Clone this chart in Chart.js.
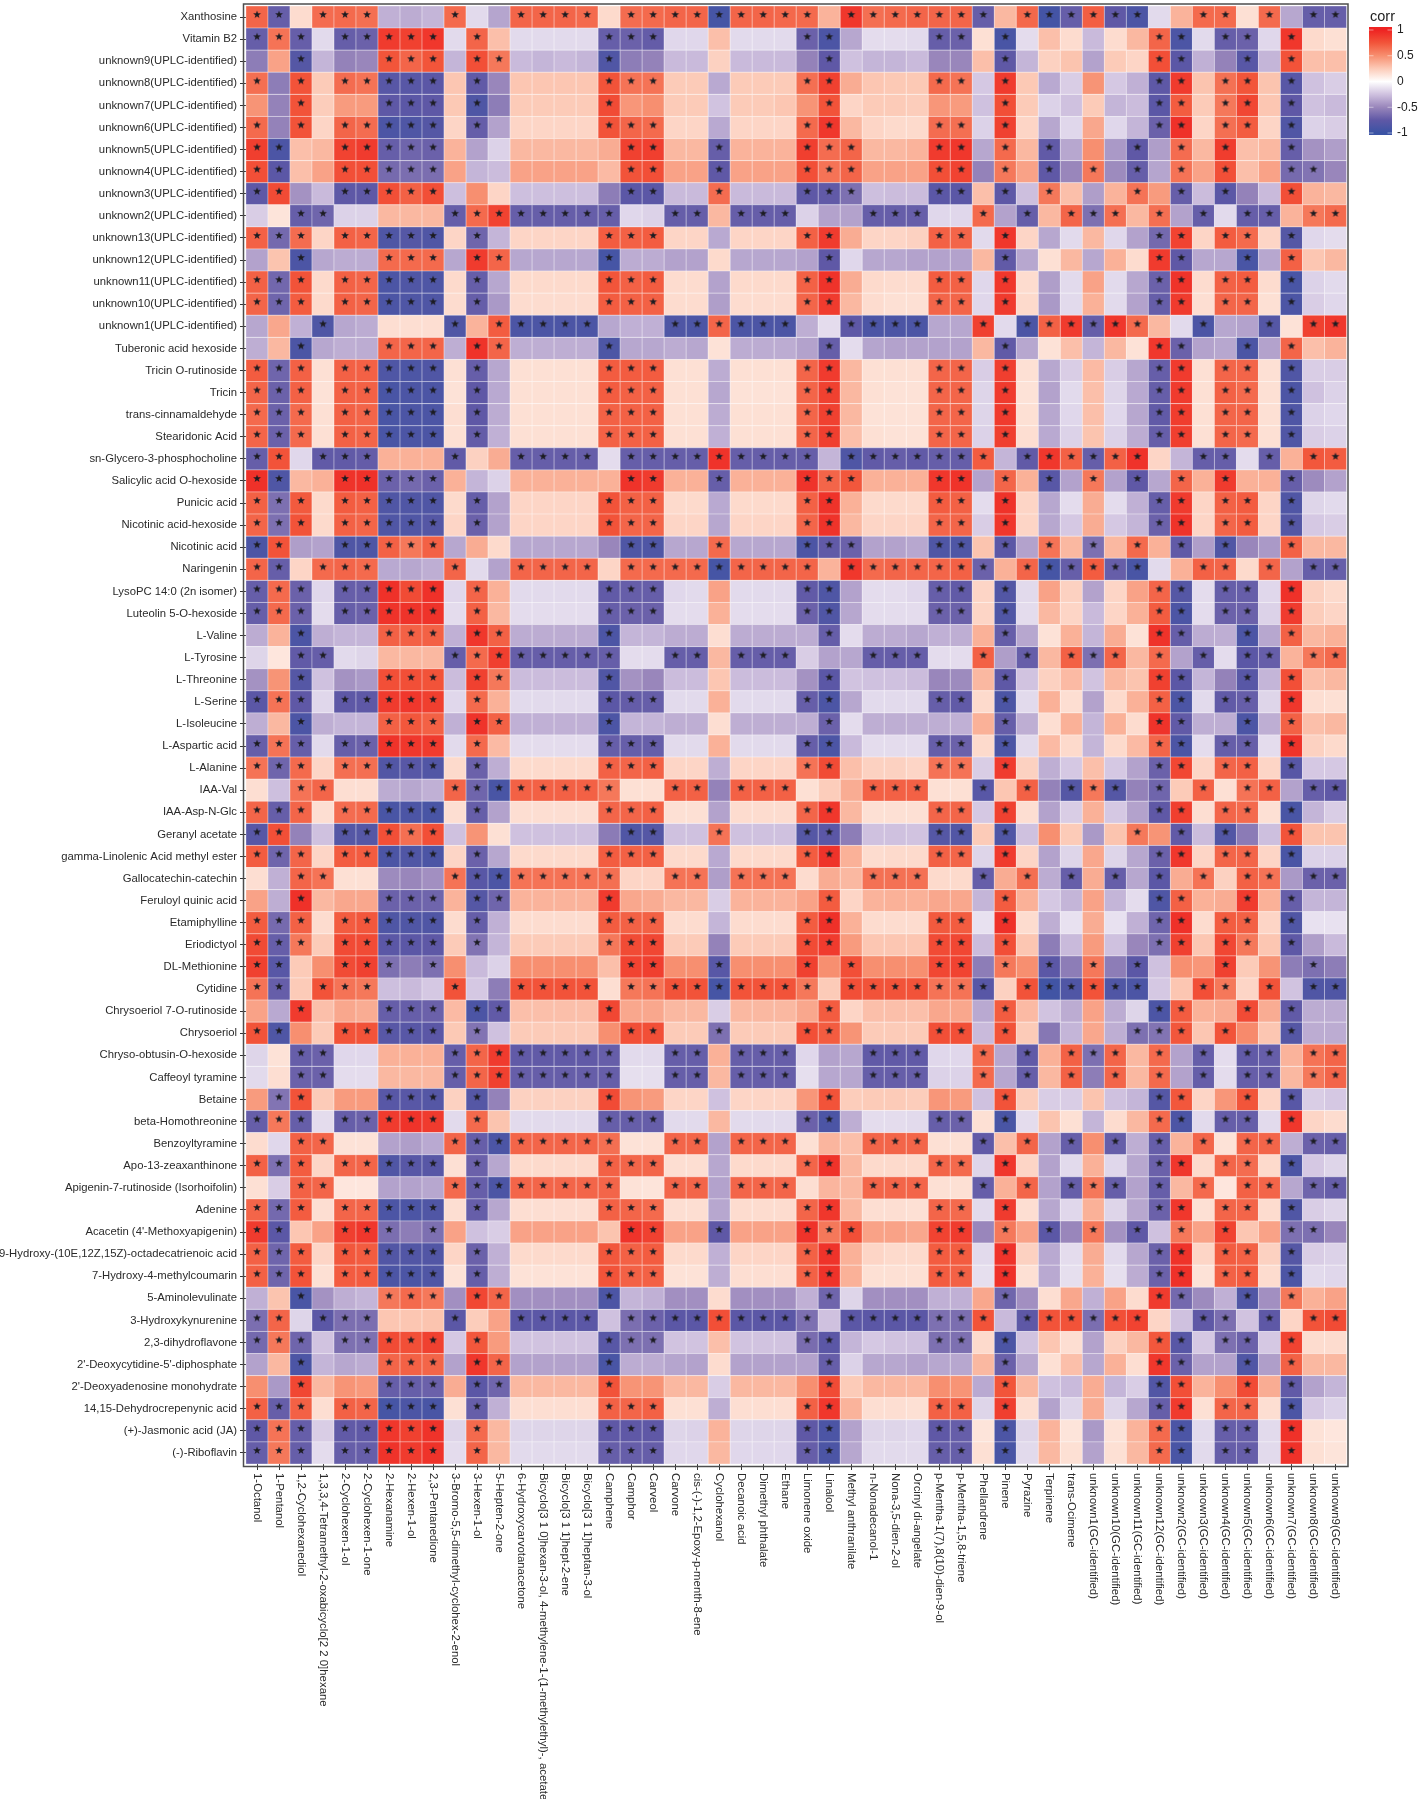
<!DOCTYPE html>
<html>
<head>
<meta charset="utf-8">
<title>corr heatmap</title>
<script src="https://cdn.jsdelivr.net/npm/chart.js@4"></script>
<style>
  html, body { margin: 0; padding: 0; background: #fff; }
  canvas { display: block; }
</style>
</head>
<body>
<canvas id="heatmap" width="1418" height="1799"></canvas>
<script>
const volatiles = ['1-Octanol','1-Pentanol','1,2-Cyclohexanediol','1,3,3,4-Tetramethyl-2-oxabicyclo[2 2 0]hexane','2-Cyclohexen-1-ol','2-Cyclohexen-1-one','2-Hexanamine','2-Hexen-1-ol','2,3-Pentanedione','3-Bromo-5,5-dimethyl-cyclohex-2-enol','3-Hexen-1-ol','5-Hepten-2-one','6-Hydroxycarvotanacetone','Bicyclo[3 1 0]hexan-3-ol, 4-methylene-1-(1-methylethyl)-, acetate','Bicyclo[3 1 1]hept-2-ene','Bicyclo[3 1 1]heptan-3-ol','Camphene','Camphor','Carveol','Carvone','cis-(-)-1,2-Epoxy-p-menth-8-ene','Cyclohexanol','Decanoic acid','Dimethyl phthalate','Ethane','Limonene oxide','Linalool','Methyl anthranilate','n-Nonadecanol-1','Nona-3,5-dien-2-ol','Orcinyl di-angelate','p-Mentha-1(7),8(10)-dien-9-ol','p-Mentha-1,5,8-triene','Phellandrene','Pinene','Pyrazine','Terpinene','trans-Ocimene','unknown1(GC-identified)','unknown10(GC-identified)','unknown11(GC-identified)','unknown12(GC-identified)','unknown2(GC-identified)','unknown3(GC-identified)','unknown4(GC-identified)','unknown5(GC-identified)','unknown6(GC-identified)','unknown7(GC-identified)','unknown8(GC-identified)','unknown9(GC-identified)']

const metabolites = ['Xanthosine','Vitamin B2','unknown9(UPLC-identified)','unknown8(UPLC-identified)','unknown7(UPLC-identified)','unknown6(UPLC-identified)','unknown5(UPLC-identified)','unknown4(UPLC-identified)','unknown3(UPLC-identified)','unknown2(UPLC-identified)','unknown13(UPLC-identified)','unknown12(UPLC-identified)','unknown11(UPLC-identified)','unknown10(UPLC-identified)','unknown1(UPLC-identified)','Tuberonic acid hexoside','Tricin O-rutinoside','Tricin','trans-cinnamaldehyde','Stearidonic Acid','sn-Glycero-3-phosphocholine','Salicylic acid O-hexoside','Punicic acid','Nicotinic acid-hexoside','Nicotinic acid','Naringenin','LysoPC 14:0 (2n isomer)','Luteolin 5-O-hexoside','L-Valine','L-Tyrosine','L-Threonine','L-Serine','L-Isoleucine','L-Aspartic acid','L-Alanine','IAA-Val','IAA-Asp-N-Glc','Geranyl acetate','gamma-Linolenic Acid methyl ester','Gallocatechin-catechin','Feruloyl quinic acid','Etamiphylline','Eriodictyol','DL-Methionine','Cytidine','Chrysoeriol 7-O-rutinoside','Chrysoeriol','Chryso-obtusin-O-hexoside','Caffeoyl tyramine','Betaine','beta-Homothreonine','Benzoyltyramine','Apo-13-zeaxanthinone','Apigenin-7-rutinoside (Isorhoifolin)','Adenine','Acacetin (4\'-Methoxyapigenin)','9-Hydroxy-(10E,12Z,15Z)-octadecatrienoic acid','7-Hydroxy-4-methylcoumarin','5-Aminolevulinate','3-Hydroxykynurenine','2,3-dihydroflavone','2\'-Deoxycytidine-5\'-diphosphate','2\'-Deoxyadenosine monohydrate','14,15-Dehydrocrepenynic acid','(+)-Jasmonic acid (JA)','(-)-Riboflavin']

// corr values per metabolite, same order as volatiles
const xanthosine = [.68,-.72,.17,.65,.66,.64,-.32,-.34,-.3,.66,-.15,-.37,.68,.68,.68,.66,.18,.65,.66,.68,.68,-.92,.68,.68,.67,
  .66,.35,.9,.64,.66,.68,.68,.68,-.72,.33,.67,-.93,-.72,.71,-.75,-.88,-.15,.35,.66,.66,.15,.66,-.36,-.72,-.72]
const vitaminB2 = [-.72,.62,-.72,-.15,-.72,-.7,.88,.85,.9,-.15,.68,.3,-.15,-.15,-.15,-.15,-.72,-.7,-.73,-.16,-.16,.3,-.15,-.15,-.15,
  -.7,-.88,-.36,-.14,-.14,-.15,-.72,-.7,.15,-.9,-.14,.3,.17,-.28,.17,.33,.68,-.88,-.15,-.72,-.7,-.16,.9,.18,.15]
const unknown9 = [-.55,.42,-.82,-.3,-.52,-.5,.75,.68,.75,-.3,.78,.6,-.28,-.3,-.28,-.3,-.85,-.55,-.52,-.28,-.28,.22,-.28,-.28,-.28,
  -.52,-.75,-.25,-.3,-.3,-.28,-.5,-.5,.3,-.75,-.3,.22,.28,-.38,.25,.2,.78,-.78,-.32,-.52,-.8,-.3,.76,.3,.3]
const unknown8 = [.64,-.55,.76,.25,.65,.62,-.8,-.8,-.78,.27,-.74,-.5,.27,.27,.27,.27,.76,.62,.62,.25,.25,-.35,.25,.25,.25,
  .64,.85,.38,.27,.26,.26,.66,.62,-.22,.88,.26,-.35,-.2,.48,-.22,-.32,-.76,.88,.28,.63,.75,.28,-.8,-.25,-.2]
const unknown7 = [.48,-.52,.76,.24,.45,.45,-.76,-.78,-.76,.26,-.86,-.55,.25,.25,.25,.25,.8,.47,.5,.25,.25,-.24,.25,.25,.27,
  .48,.76,.2,.25,.25,.24,.47,.45,-.25,.78,.25,-.18,-.25,.25,-.3,-.27,-.78,.72,.25,.6,.82,.27,-.75,-.25,-.28]
const unknown6 = [.66,-.52,.76,.2,.68,.65,-.88,-.86,-.82,.2,-.72,-.38,.2,.2,.2,.2,.76,.68,.66,.2,.2,-.35,.2,.2,.2,
  .66,.9,.33,.2,.18,.18,.65,.64,-.18,.85,.2,-.36,-.16,.4,-.16,-.3,-.7,.93,.2,.64,.72,.2,-.85,-.18,-.2]
const unknown5 = [.86,-.88,.3,.33,.84,.88,-.72,-.68,-.7,.35,-.38,-.18,.33,.33,.33,.33,.38,.85,.86,.33,.33,-.72,.35,.35,.35,
  .86,.65,.68,.33,.33,.35,.88,.9,-.36,.66,.33,-.74,-.36,.5,-.42,-.75,-.4,.65,.33,.87,.3,.33,-.72,-.45,-.4]
const unknown4 = [.78,-.78,.3,.42,.78,.78,-.65,-.63,-.63,.42,-.3,-.27,.42,.42,.42,.42,.32,.76,.78,.42,.42,-.75,.42,.42,.42,
  .78,.62,.68,.42,.42,.42,.78,.84,-.52,.6,.42,-.75,-.5,.6,-.48,-.72,-.37,.62,.42,.78,.3,.42,-.65,-.6,-.5]
const unknown3 = [-.76,.8,-.45,-.28,-.76,-.76,.78,.7,.78,-.26,.5,.2,-.26,-.26,-.26,-.26,-.55,-.78,-.78,-.28,-.28,.65,-.28,-.28,-.28,
  -.76,-.74,-.62,-.26,-.27,-.27,-.78,-.78,.3,-.76,-.26,.6,.3,-.4,.35,.62,.45,-.72,-.27,-.78,-.52,-.28,.78,.35,.33]
const unknown2 = [-.2,.13,-.72,-.68,-.18,-.18,.33,.33,.33,-.72,.66,.84,-.72,-.72,-.72,-.72,-.72,-.16,-.18,-.72,-.72,.33,-.72,-.72,-.72,
  -.18,-.38,-.38,-.72,-.72,-.72,-.16,-.16,.66,-.38,-.72,.33,.68,-.62,.64,.33,.64,-.38,-.72,-.15,-.72,-.72,.35,.6,.66]
const unknown13 = [.7,-.66,.65,.2,.7,.68,-.86,-.82,-.85,.2,-.68,-.3,.2,.2,.2,.2,.72,.7,.72,.2,.2,-.35,.2,.2,.2,
  .7,.88,.38,.2,.2,.22,.7,.68,-.15,.9,.2,-.36,-.15,.33,-.16,-.38,-.66,.84,.2,.72,.66,.2,-.82,-.16,-.14]
const unknown12 = [-.38,.28,-.88,-.36,-.34,-.34,.66,.66,.66,-.36,.88,.68,-.36,-.36,-.36,-.36,-.92,-.34,-.34,-.38,-.38,.18,-.36,-.36,-.36,
  -.38,-.75,-.16,-.36,-.36,-.38,-.38,-.38,.33,-.74,-.36,.15,.33,-.36,.36,.17,.88,-.75,-.36,-.36,-.9,-.36,.7,.27,.33]
const unknown11 = [.7,-.67,.76,.18,.7,.68,-.88,-.85,-.86,.18,-.72,-.36,.18,.18,.18,.18,.75,.7,.72,.17,.17,-.38,.18,.18,.18,
  .7,.92,.38,.18,.17,.17,.72,.7,-.16,.9,.17,-.4,-.15,.42,-.15,-.36,-.7,.92,.17,.7,.72,.17,-.9,-.18,-.15]
const unknown10 = [.68,-.68,.72,.18,.7,.68,-.88,-.86,-.86,.17,-.72,-.42,.17,.17,.17,.17,.72,.7,.7,.17,.17,-.4,.17,.17,.17,
  .68,.88,.33,.17,.15,.15,.68,.68,-.16,.88,.18,-.42,-.15,.36,-.15,-.38,-.72,.88,.16,.68,.68,.15,-.88,-.2,-.16]
const unknown1 = [-.36,.4,-.32,-.86,-.36,-.34,.16,.16,.16,-.85,.35,.72,-.88,-.88,-.88,-.88,-.36,-.32,-.32,-.86,-.88,.68,-.88,-.88,-.88,
  -.33,-.14,-.76,-.88,-.88,-.88,-.36,-.36,.85,-.15,-.88,.7,.88,-.72,.9,.66,.33,-.15,-.88,-.36,-.38,-.82,.14,.85,.9]
const tuberonic = [-.33,.33,-.88,-.36,-.33,-.34,.68,.68,.68,-.33,.92,.68,-.33,-.33,-.33,-.33,-.87,-.36,-.36,-.34,-.36,.14,-.34,-.34,-.34,
  -.38,-.72,-.14,-.37,-.38,-.38,-.38,-.38,.33,-.74,-.36,.14,.3,-.3,.33,.14,.9,-.7,-.38,-.36,-.88,-.38,.68,.3,.35]
const tricinRut = [.72,-.68,.7,.15,.7,.7,-.86,-.87,-.85,.15,-.72,-.36,.15,.15,.15,.15,.72,.72,.72,.15,.15,-.34,.15,.15,.15,
  .68,.88,.33,.15,.15,.15,.68,.68,-.2,.86,.15,-.36,-.2,.32,-.2,-.36,-.72,.88,.15,.68,.68,.15,-.85,-.2,-.2]
const tricin = [.68,-.7,.7,.14,.7,.7,-.9,-.88,-.88,.14,-.75,-.35,.15,.15,.15,.15,.72,.7,.7,.15,.15,-.36,.14,.14,.14,
  .68,.85,.33,.15,.14,.14,.68,.68,-.17,.88,.14,-.38,-.15,.3,-.17,-.35,-.72,.88,.15,.7,.66,.15,-.88,-.25,-.18]
const cinnamaldehyde = [.66,-.7,.66,.15,.7,.68,-.9,-.88,-.88,.16,-.75,-.34,.15,.15,.15,.15,.7,.7,.7,.15,.15,-.34,.15,.15,.15,
  .68,.85,.33,.14,.14,.14,.68,.68,-.17,.88,.15,-.36,-.16,.3,-.16,-.36,-.74,.87,.15,.68,.68,.15,-.86,-.18,-.16]
const stearidonic = [.68,-.7,.66,.15,.7,.68,-.9,-.88,-.88,.15,-.73,-.32,.15,.15,.15,.15,.7,.7,.7,.15,.15,-.32,.15,.15,.15,
  .68,.86,.3,.15,.14,.14,.68,.68,-.18,.86,.16,-.35,-.18,.28,-.18,-.34,-.72,.86,.15,.68,.66,.15,-.85,-.2,-.18]
const snGlycero = [-.72,.76,-.16,-.74,-.74,-.73,.36,.36,.36,-.74,.22,.38,-.72,-.72,-.72,-.72,-.14,-.72,-.72,-.72,-.72,.92,-.72,-.72,-.72,
  -.72,-.3,-.86,-.74,-.72,-.74,-.72,-.72,.72,-.3,-.74,.9,.7,-.72,.7,.92,.2,-.3,-.72,-.72,-.14,-.72,.36,.74,.72]
const salicylic = [.93,-.86,.33,.36,.92,.93,-.7,-.66,-.7,.36,-.3,-.18,.36,.36,.36,.36,.36,.92,.88,.36,.36,-.72,.36,.36,.36,
  .92,.68,.74,.36,.36,.36,.9,.92,-.38,.68,.36,-.8,-.38,.6,-.38,-.75,-.36,.68,.36,.88,.36,.36,-.72,-.48,-.38]
const punicic = [.7,-.62,.73,.18,.72,.7,-.85,-.85,-.85,.18,-.72,-.38,.2,.2,.2,.2,.76,.7,.7,.18,.18,-.35,.18,.18,.18,
  .7,.92,.36,.18,.18,.18,.72,.7,-.14,.92,.2,-.36,-.14,.38,-.14,-.32,-.72,.88,.2,.7,.72,.2,-.85,-.17,-.15]
const nicotinicHex = [.68,-.62,.76,.18,.7,.68,-.85,-.85,-.82,.2,-.7,-.38,.2,.2,.2,.2,.76,.68,.68,.2,.2,-.36,.2,.2,.2,
  .68,.92,.33,.2,.2,.2,.68,.68,-.2,.9,.2,-.36,-.22,.38,-.22,-.3,-.7,.92,.2,.68,.72,.2,-.82,-.22,-.2]
const nicotinic = [-.88,.76,-.4,-.38,-.86,-.86,.7,.6,.7,-.36,.38,.18,-.36,-.36,-.36,-.36,-.5,-.86,-.86,-.36,-.36,.66,-.36,-.36,-.36,
  -.88,-.74,-.7,-.38,-.38,-.36,-.86,-.86,.28,-.78,-.38,.62,.33,-.62,.33,.66,.36,-.74,-.4,-.85,-.5,-.42,.7,.33,.33]
const naringenin = [.68,-.72,.2,.66,.68,.66,-.35,-.36,-.33,.68,-.15,-.38,.68,.68,.68,.68,.2,.66,.66,.66,.66,-.92,.68,.68,.68,
  .68,.35,.9,.66,.68,.68,.68,.7,-.7,.36,.68,-.92,-.72,.72,-.72,-.9,-.15,.36,.7,.68,.18,.68,-.38,-.72,-.72]
const lysoPC = [-.72,.66,-.7,-.16,-.72,-.72,.93,.8,.93,-.16,.68,.36,-.15,-.15,-.15,-.15,-.74,-.72,-.72,-.16,-.15,.42,-.15,-.15,-.15,
  -.74,-.86,-.38,-.14,-.14,-.16,-.72,-.74,.2,-.84,-.15,.42,.22,-.38,.2,.42,.68,-.82,-.14,-.72,-.72,-.16,.93,.22,.18]
const luteolin = [-.72,.66,-.7,-.14,-.72,-.7,.92,.92,.92,-.14,.7,.33,-.14,-.14,-.14,-.14,-.72,-.7,-.7,-.14,-.14,.36,-.14,-.14,-.14,
  -.7,-.85,-.36,-.14,-.14,-.14,-.7,-.7,.2,-.85,-.14,.33,.2,-.28,.2,.36,.72,-.88,-.14,-.7,-.7,-.18,.88,.24,.2]
const valine = [-.34,.35,-.88,-.33,-.3,-.3,.7,.7,.7,-.32,.9,.7,-.34,-.34,-.34,-.34,-.88,-.3,-.3,-.34,-.34,.16,-.34,-.34,-.34,
  -.34,-.72,-.14,-.34,-.34,-.36,-.32,-.33,.36,-.72,-.36,.14,.36,-.3,.38,.14,.92,-.72,-.34,-.33,-.88,-.36,.7,.33,.36]
const tyrosine = [-.17,.12,-.74,-.72,-.15,-.17,.33,.33,.33,-.72,.66,.86,-.72,-.72,-.72,-.72,-.72,-.14,-.14,-.72,-.72,.33,-.72,-.72,-.72,
  -.2,-.38,-.36,-.72,-.72,-.72,-.14,-.14,.7,-.4,-.72,.33,.7,-.62,.68,.33,.66,-.38,-.72,-.14,-.78,-.72,.35,.6,.66]
const threonine = [-.45,.48,-.82,-.25,-.45,-.42,.78,.78,.76,-.27,.85,.6,-.27,-.27,-.27,-.27,-.85,-.45,-.5,-.27,-.27,.27,-.27,-.27,-.27,
  -.45,-.78,-.24,-.25,-.25,-.27,-.5,-.48,.33,-.76,-.24,.22,.32,-.24,.33,.28,.85,-.78,-.3,-.52,-.8,-.3,.78,.3,.33]
const serine = [-.78,.62,-.75,-.16,-.76,-.76,.88,.9,.86,-.16,.66,.36,-.15,-.15,-.15,-.15,-.78,-.73,-.72,-.15,-.15,.36,-.15,-.15,-.15,
  -.72,-.88,-.36,-.15,-.15,-.15,-.72,-.74,.18,-.88,-.15,.36,.16,-.38,.18,.36,.7,-.88,-.15,-.74,-.72,-.17,.9,.16,.15]
const isoleucine = [-.33,.33,-.88,-.33,-.3,-.3,.7,.74,.7,-.32,.92,.7,-.32,-.32,-.32,-.32,-.88,-.3,-.3,-.33,-.33,.16,-.33,-.33,-.33,
  -.33,-.7,-.14,-.33,-.33,-.33,-.33,-.32,.36,-.72,-.33,.16,.36,-.3,.36,.17,.92,-.74,-.33,-.33,-.88,-.33,.7,.3,.33]
const aspartic = [-.72,.62,-.72,-.15,-.72,-.7,.92,.9,.88,-.15,.66,.32,-.14,-.14,-.14,-.14,-.72,-.72,-.72,-.15,-.15,.36,-.15,-.15,-.15,
  -.72,-.88,-.28,-.14,-.14,-.14,-.72,-.7,.18,-.88,-.15,.32,.18,-.3,.18,.32,.68,-.88,-.14,-.72,-.72,-.14,.92,.22,.18]
const alanine = [.62,-.68,.66,.2,.64,.64,-.84,-.8,-.84,.18,-.7,-.33,.18,.18,.18,.18,.7,.68,.7,.2,.2,-.33,.2,.2,.2,
  .62,.8,.3,.22,.22,.2,.62,.62,-.2,.88,.22,-.33,-.22,.3,-.22,-.38,-.7,.82,.2,.68,.7,.2,-.8,-.22,-.22]
const iaaVal = [.16,-.26,.62,.68,.16,.16,-.34,-.36,-.32,.68,-.68,-.9,.7,.7,.7,.7,.6,.15,.15,.7,.7,-.52,.7,.7,.7,
  .15,.24,.38,.7,.7,.7,.15,.15,-.8,.27,.7,-.52,-.82,.6,-.82,-.52,-.68,.25,.7,.15,.62,.7,-.38,-.72,-.75]
const iaaAsp = [.68,-.72,.68,.16,.65,.66,-.9,-.88,-.9,.16,-.72,-.38,.16,.16,.16,.16,.68,.68,.7,.15,.15,-.38,.17,.17,.17,
  .68,.9,.33,.15,.15,.15,.68,.68,-.22,.85,.16,-.38,-.2,.36,-.22,-.38,-.75,.86,.16,.68,.66,.15,-.9,-.3,-.2]
const geranyl = [-.8,.78,-.52,-.25,-.82,-.82,.78,.64,.78,-.25,.48,.15,-.25,-.25,-.25,-.25,-.56,-.85,-.82,-.25,-.25,.62,-.25,-.25,-.25,
  -.82,-.78,-.55,-.25,-.25,-.24,-.82,-.84,.25,-.85,-.25,.5,.25,-.42,.28,.6,.48,-.74,-.27,-.84,-.56,-.26,.76,.28,.28]
const gammaLinolenic = [.72,-.68,.68,.2,.72,.72,-.88,-.85,-.88,.2,-.7,-.36,.18,.18,.18,.18,.72,.7,.7,.18,.18,-.35,.18,.18,.18,
  .72,.92,.36,.17,.18,.18,.7,.68,-.17,.88,.2,-.38,-.17,.4,-.17,-.36,-.7,.9,.2,.68,.68,.2,-.9,-.18,-.18]
const gallocatechin = [.16,-.32,.68,.62,.15,.15,-.48,-.5,-.46,.62,-.8,-.88,.62,.62,.62,.62,.64,.2,.2,.62,.62,-.4,.62,.62,.62,
  .17,.38,.33,.63,.63,.63,.18,.18,-.72,.38,.64,-.34,-.72,.38,-.72,-.36,-.78,.38,.62,.22,.7,.62,-.42,-.7,-.7]
const feruloyl = [.42,-.33,.93,.33,.4,.4,-.7,-.7,-.68,.35,-.82,-.68,.35,.35,.35,.35,.88,.4,.38,.33,.33,-.2,.35,.35,.35,
  .42,.72,.2,.35,.36,.36,.4,.4,-.3,.72,.36,-.22,-.3,.42,-.3,-.14,-.86,.7,.36,.38,.88,.36,-.72,-.3,-.3]
const etamiphylline = [.72,-.65,.7,.17,.72,.74,-.86,-.85,-.85,.17,-.72,-.32,.17,.17,.17,.17,.72,.7,.7,.17,.17,-.3,.17,.17,.17,
  .72,.93,.36,.17,.17,.17,.73,.72,-.12,.93,.17,-.33,-.12,.38,-.12,-.32,-.68,.93,.17,.72,.7,.2,-.85,-.12,-.12]
const eriodictyol = [.8,-.72,.6,.25,.8,.8,-.78,-.78,-.76,.25,-.6,-.3,.25,.25,.25,.25,.6,.8,.82,.25,.25,-.52,.25,.25,.25,
  .8,.88,.45,.27,.27,.27,.8,.82,-.27,.78,.27,-.55,-.28,.45,-.25,-.5,-.62,.85,.27,.82,.6,.27,-.76,-.4,-.28]
const methionine = [.85,-.8,.25,.5,.8,.85,-.62,-.55,-.62,.5,-.28,-.18,.5,.5,.5,.5,.3,.84,.86,.5,.5,-.8,.5,.5,.5,
  .85,.5,.78,.5,.5,.5,.82,.84,-.55,.6,.5,-.78,-.55,.6,-.55,-.78,-.25,.5,.47,.85,.25,.48,-.55,-.62,-.55]
const cytidine = [.62,-.72,.25,.76,.62,.6,-.26,-.28,-.22,.76,-.22,-.55,.76,.76,.76,.76,.16,.6,.62,.76,.76,-.92,.76,.76,.76,
  .6,.25,.78,.76,.76,.76,.62,.62,-.8,.22,.76,-.95,-.85,.76,-.85,-.88,-.22,.27,.78,.6,.2,.76,-.24,-.85,-.85]
const chrysoeriolRut = [.42,-.35,.88,.3,.4,.38,-.72,-.72,-.7,.32,-.88,-.74,.3,.3,.3,.3,.82,.4,.4,.33,.33,-.2,.33,.33,.33,
  .4,.72,.2,.3,.3,.3,.4,.4,-.35,.72,.32,-.24,-.34,.42,-.34,-.17,-.88,.72,.36,.38,.8,.38,-.74,-.34,-.34]
const chrysoeriol = [.76,-.86,.5,.25,.76,.76,-.8,-.8,-.78,.26,-.6,-.25,.25,.25,.25,.25,.5,.78,.78,.25,.25,-.62,.25,.25,.25,
  .78,.72,.48,.25,.25,.25,.78,.78,-.28,.76,.25,-.58,-.3,.4,-.33,-.62,-.6,.74,.27,.76,.52,.27,-.82,-.34,-.34]
const chrysoObtusin = [-.17,.14,-.72,-.7,-.16,-.16,.36,.36,.36,-.72,.68,.88,-.74,-.74,-.74,-.74,-.72,-.15,-.15,-.72,-.72,.36,-.72,-.72,-.72,
  -.16,-.38,-.36,-.74,-.74,-.74,-.16,-.16,.66,-.36,-.74,.36,.7,-.62,.68,.33,.66,-.38,-.72,-.14,-.74,-.72,.35,.62,.68]
const caffeoyl = [-.15,.16,-.7,-.7,-.14,-.14,.33,.33,.33,-.72,.68,.85,-.72,-.72,-.72,-.72,-.72,-.13,-.13,-.72,-.72,.33,-.72,-.72,-.72,
  -.13,-.36,-.36,-.72,-.72,-.72,-.18,-.18,.66,-.36,-.72,.33,.7,-.55,.68,.33,.66,-.38,-.72,-.14,-.72,-.72,.33,.6,.68]
const betaine = [.45,-.6,.76,.25,.45,.45,-.8,-.8,-.82,.22,-.82,-.52,.22,.22,.22,.22,.8,.48,.45,.2,.2,-.25,.2,.2,.2,
  .47,.76,.24,.25,.25,.24,.47,.45,-.25,.76,.24,-.2,-.2,.28,-.25,-.3,-.82,.74,.2,.47,.75,.2,-.8,-.2,-.22]
const betaHomo = [-.72,.6,-.72,-.14,-.72,-.7,.88,.92,.88,-.15,.66,.28,-.15,-.15,-.15,-.15,-.72,-.72,-.72,-.15,-.15,.33,-.15,-.15,-.15,
  -.7,-.88,-.33,-.14,-.14,-.15,-.72,-.7,.15,-.9,-.14,.28,.15,-.3,.17,.33,.66,-.88,-.15,-.72,-.72,-.15,.9,.2,.17]
const benzoyl = [.17,-.16,.7,.68,.14,.14,-.38,-.4,-.35,.68,-.72,-.88,.68,.68,.68,.68,.64,.14,.14,.68,.68,-.38,.68,.68,.68,
  .15,.34,.3,.68,.68,.68,.15,.15,-.74,.3,.68,-.38,-.72,.5,-.72,-.33,-.72,.35,.68,.14,.68,.68,-.33,-.7,-.72]
const apo13 = [.7,-.62,.72,.2,.68,.68,-.85,-.8,-.8,.15,-.7,-.36,.18,.18,.18,.18,.7,.68,.68,.16,.16,-.36,.18,.18,.18,
  .68,.92,.33,.18,.18,.18,.68,.66,-.17,.9,.2,-.38,-.15,.36,-.16,-.36,-.7,.9,.18,.68,.65,.18,-.88,-.22,-.17]
const apigenin = [.15,-.2,.7,.68,.12,.12,-.38,-.38,-.36,.66,-.72,-.88,.68,.68,.68,.68,.68,.14,.13,.68,.68,-.38,.68,.68,.68,
  .16,.34,.33,.68,.68,.68,.15,.15,-.72,.36,.68,-.38,-.72,.6,-.72,-.38,-.72,.33,.66,.12,.7,.68,-.36,-.68,-.72]
const adenine = [.68,-.66,.72,.16,.68,.68,-.88,-.88,-.85,.16,-.72,-.36,.16,.16,.16,.16,.7,.68,.66,.16,.16,-.36,.17,.17,.17,
  .68,.9,.33,.16,.16,.15,.68,.66,-.15,.88,.16,-.36,-.16,.36,-.17,-.36,-.7,.9,.15,.68,.68,.17,-.85,-.2,-.17]
const acacetin = [.88,-.78,.27,.42,.86,.9,-.63,-.55,-.62,.42,-.25,-.2,.42,.42,.42,.42,.28,.92,.85,.42,.42,-.75,.42,.42,.42,
  .92,.6,.78,.42,.42,.4,.84,.88,-.5,.6,.42,-.78,-.5,.6,-.45,-.75,-.25,.6,.42,.84,.27,.42,-.62,-.62,-.5]
const hydroxyOctadeca = [.7,-.68,.72,.2,.74,.72,-.84,-.84,-.84,.2,-.7,-.32,.18,.18,.18,.18,.74,.7,.72,.18,.18,-.32,.2,.2,.2,
  .7,.92,.36,.2,.18,.18,.72,.72,-.15,.92,.22,-.35,-.14,.38,-.15,-.36,-.7,.92,.2,.72,.7,.22,-.82,-.2,-.18]
const hydroxyCoumarin = [.7,-.68,.76,.15,.72,.72,-.88,-.88,-.85,.14,-.72,-.33,.14,.14,.14,.14,.76,.7,.7,.14,.14,-.33,.16,.16,.16,
  .7,.92,.36,.15,.15,.15,.72,.7,-.13,.93,.15,-.35,-.13,.36,-.13,-.34,-.7,.93,.14,.7,.72,.17,-.88,-.15,-.16]
const aminolevulinate = [-.32,.28,-.9,-.45,-.33,-.3,.6,.66,.6,-.46,.82,.68,-.46,-.46,-.46,-.46,-.88,-.3,-.32,-.46,-.46,.17,-.46,-.46,-.46,
  -.32,-.68,-.17,-.46,-.46,-.46,-.32,-.32,.4,-.68,-.46,.16,.4,-.32,.42,.17,.88,-.66,-.48,-.32,-.85,-.46,.6,.36,.42]
const hydroxykynurenine = [-.63,.68,-.17,-.78,-.63,-.63,.27,.27,.28,-.78,.24,.42,-.78,-.78,-.78,-.78,-.25,-.63,-.7,-.78,-.78,.78,-.78,-.78,-.78,
  -.62,-.25,-.78,-.78,-.78,-.78,-.62,-.63,.76,-.28,-.76,.76,.76,-.63,.78,.84,.2,-.25,-.75,-.63,-.24,-.76,.2,.76,.8]
const dihydroflavone = [-.66,.6,-.68,-.24,-.62,-.62,.8,.78,.85,-.22,.74,.45,-.24,-.24,-.24,-.24,-.8,-.62,-.62,-.24,-.24,.3,-.24,-.24,-.24,
  -.64,-.78,-.3,-.22,-.24,-.25,-.62,-.62,.18,-.88,-.24,.27,.16,-.38,.22,.33,.74,-.8,-.22,-.62,-.7,-.22,.84,.17,.17]
const deoxycytidine = [-.38,.33,-.88,-.3,-.36,-.34,.68,.7,.68,-.38,.9,.68,-.38,-.38,-.38,-.38,-.9,-.34,-.34,-.37,-.38,.17,-.38,-.38,-.38,
  -.38,-.72,-.18,-.36,-.36,-.38,-.36,-.36,.33,-.7,-.36,.15,.3,-.36,.36,.16,.9,-.7,-.38,-.38,-.85,-.4,.7,.33,.33]
const deoxyadenosine = [.5,-.42,.82,.33,.48,.46,-.72,-.72,-.7,.38,-.78,-.68,.33,.33,.33,.33,.76,.48,.48,.33,.33,-.2,.33,.33,.33,
  .5,.8,.25,.33,.33,.33,.5,.48,-.35,.75,.33,-.25,-.28,.38,-.3,-.2,-.84,.78,.35,.5,.8,.38,-.74,-.38,-.3]
const dehydrocrepenynic = [.7,-.72,.7,.16,.7,.68,-.92,-.88,-.9,.15,-.72,-.32,.16,.16,.16,.16,.7,.68,.7,.15,.15,-.33,.16,.16,.16,
  .7,.9,.35,.16,.16,.15,.7,.7,-.17,.86,.16,-.38,-.17,.38,-.17,-.36,-.72,.88,.15,.68,.68,.16,-.88,-.22,-.18]
const jasmonic = [-.75,.62,-.72,-.2,-.74,-.75,.9,.85,.92,-.17,.66,.33,-.17,-.17,-.17,-.17,-.75,-.75,-.75,-.17,-.18,.35,-.17,-.17,-.17,
  -.75,-.88,-.38,-.17,-.17,-.16,-.75,-.72,.13,-.88,-.17,.35,.13,-.42,.14,.35,.66,-.88,-.15,-.72,-.72,-.15,.93,.14,.12]
const riboflavin = [-.72,.6,-.72,-.14,-.72,-.72,.92,.88,.92,-.14,.68,.33,-.15,-.15,-.15,-.15,-.72,-.72,-.72,-.16,-.16,.33,-.16,-.16,-.16,
  -.72,-.88,-.36,-.15,-.15,-.15,-.72,-.72,.15,-.9,-.15,.33,.15,-.38,.15,.33,.66,-.9,-.15,-.72,-.72,-.15,.93,.15,.13]

const corrRows = [xanthosine,vitaminB2,unknown9,unknown8,unknown7,unknown6,unknown5,unknown4,unknown3,unknown2,unknown13,unknown12,unknown11,unknown10,unknown1,tuberonic,tricinRut,tricin,cinnamaldehyde,stearidonic,snGlycero,salicylic,punicic,nicotinicHex,nicotinic,naringenin,lysoPC,luteolin,valine,tyrosine,threonine,serine,isoleucine,aspartic,alanine,iaaVal,iaaAsp,geranyl,gammaLinolenic,gallocatechin,feruloyl,etamiphylline,eriodictyol,methionine,cytidine,chrysoeriolRut,chrysoeriol,chrysoObtusin,caffeoyl,betaine,betaHomo,benzoyl,apo13,apigenin,adenine,acacetin,hydroxyOctadeca,hydroxyCoumarin,aminolevulinate,hydroxykynurenine,dihydroflavone,deoxycytidine,deoxyadenosine,dehydrocrepenynic,jasmonic,riboflavin]

const legendBreaks = [1, 0.5, 0, -0.5, -1]
const sigLevel = 0.6 // cells at or above this |r| carry a star

// colour ramp
const rampAt = [-1, -0.75, -0.5, -0.25, 0, 0.25, 0.5, 0.75, 1]
const rampRgb = [[58,83,164],[95,88,166],[153,134,187],[207,193,223],[255,255,255],[252,203,184],[247,143,112],[242,85,58],[238,35,34]]

const corrColor = (v) => {
  let i = 0
  while (i < rampAt.length - 2 && v > rampAt[i + 1]) i++
  const t = (v - rampAt[i]) / (rampAt[i + 1] - rampAt[i])
  const c = rampRgb[i].map((a, k) => Math.round(a + (rampRgb[i + 1][k] - a) * t))
  return `rgb(${c[0]},${c[1]},${c[2]})`
}

// star marker sits a little above the cell centre, like the geom_text "*"
const starMarker = () => {
  const cv = document.createElement('canvas')
  cv.width = 22
  cv.height = 22
  const c = cv.getContext('2d')
  c.fillStyle = '#1c1c22'
  c.beginPath()
  for (let i = 0; i < 10; i++) {
    const r = i % 2 ? 1.7 : 4.1
    const a = -Math.PI / 2 + (i * Math.PI) / 5
    c.lineTo(11 + r * Math.cos(a), 8.6 + r * Math.sin(a))
  }
  c.closePath()
  c.fill()
  return cv
}

const cells = []
const cellColors = []
const stars = []
corrRows.forEach((row, i) => {
  row.forEach((v, j) => {
    cells.push({ x: volatiles[j], y: metabolites[i] })
    cellColors.push(corrColor(v))
    if (Math.abs(v) >= sigLevel) stars.push({ x: volatiles[j], y: metabolites[i] })
  })
})

const panelAndLegend = {
  id: 'panelAndLegend',
  afterDraw(chart) {
    const { ctx, chartArea: a } = chart
    ctx.save()
    // panel border
    ctx.strokeStyle = '#4d4d4d'
    ctx.lineWidth = 1.5
    ctx.strokeRect(a.left - 2.5, a.top - 2, a.width + 4, a.height + 4.5)

    // colour bar
    const barX = 1369
    const barW = 23
    const yOf = (v) => 81.5 - v * 51.5
    const grad = ctx.createLinearGradient(0, yOf(1), 0, yOf(-1))
    rampAt.forEach((v) => grad.addColorStop((1 - v) / 2, corrColor(v)))
    ctx.fillStyle = grad
    ctx.fillRect(barX, 27, barW, 108)
    ctx.strokeStyle = 'rgba(255,255,255,0.8)'
    ctx.lineWidth = 0.6
    ctx.fillStyle = '#222'
    ctx.font = '12px "Liberation Sans"'
    ctx.textBaseline = 'middle'
    legendBreaks.forEach((v) => {
      const y = yOf(v)
      ctx.beginPath()
      ctx.moveTo(barX, y)
      ctx.lineTo(barX + 4.5, y)
      ctx.moveTo(barX + barW - 4.5, y)
      ctx.lineTo(barX + barW, y)
      ctx.stroke()
      ctx.fillText(String(v), 1397, y)
    })
    ctx.font = '14.5px "Liberation Sans"'
    ctx.fillText('corr', 1370, 17)
    ctx.restore()
  },
}

const axisTicks = {
  autoSkip: false,
  color: '#2a2a2a',
  padding: 3,
}

new Chart(document.getElementById('heatmap').getContext('2d'), {
  type: 'scatter',
  data: {
    datasets: [
      {
        label: 'sig',
        order: 0,
        data: stars,
        pointStyle: starMarker(),
        pointRadius: 4,
      },
      {
        label: 'corr',
        order: 1,
        data: cells,
        pointStyle: 'rect',
        pointRadius: 22.05 * Math.SQRT1_2,
        pointBackgroundColor: cellColors,
        pointBorderColor: 'rgba(255,255,255,0.4)',
        pointBorderWidth: 0.8,
      },
    ],
  },
  options: {
    responsive: false,
    animation: false,
    events: [],
    // big rect points would otherwise push the chart area in
    layout: { autoPadding: false, padding: { top: 6, right: 71.5, left: 0, bottom: 0 } },
    plugins: { legend: { display: false }, tooltip: { enabled: false } },
    scales: {
      x: {
        type: 'category',
        labels: volatiles,
        offset: true,
        grid: { drawOnChartArea: false, offset: false, tickLength: 6, tickColor: '#333', tickWidth: 1 },
        border: { display: false },
        // -90 reads top to bottom like the original
        ticks: { ...axisTicks, font: { family: '"Liberation Sans"', size: 11.4 }, minRotation: -90, maxRotation: -90 },
        afterFit: (s) => {
          s.height = 335
          s.paddingLeft = s.paddingRight = 0
          s._getXAxisLabelAlignment = () => 'left'
        },
      },
      y: {
        type: 'category',
        labels: metabolites,
        offset: true,
        grid: { drawOnChartArea: false, offset: false, tickLength: 6, tickColor: '#333', tickWidth: 1 },
        border: { display: false },
        ticks: { ...axisTicks, font: { family: '"Liberation Sans"', size: 11.3 } },
        afterFit: (s) => {
          s.width = 246
          s.paddingTop = s.paddingBottom = 0
        },
      },
    },
  },
  plugins: [panelAndLegend],
})
</script>
</body>
</html>
